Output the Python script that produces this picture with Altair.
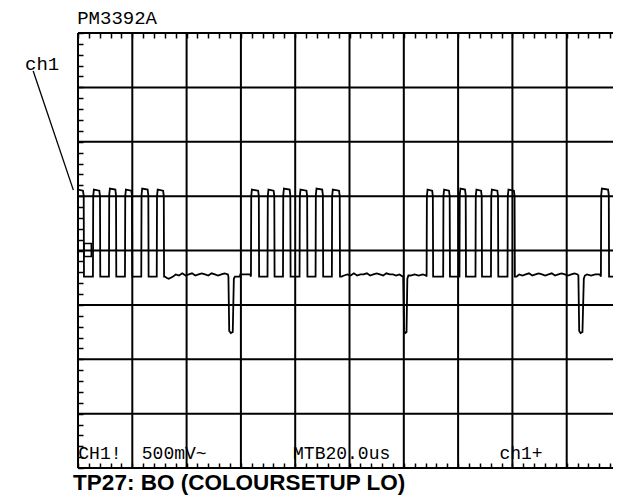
import altair as alt
import pandas as pd

# ---- graticule (time in microseconds, 20 us/div; voltage in V, 500 mV/div)
# the screen's right edge (200 us) lies just outside the photographed area
major_x = [0, 20, 40, 60, 80, 100, 120, 140, 160, 180]
major_y = [-2.0, -1.5, -1.0, -0.5, 0.0, 0.5, 1.0, 1.5, 2.0]
minor_x = [i * 4 for i in range(50)]
minor_y = [round(-2 + i * 0.1, 2) for i in range(41)]
visible_x = [0, 197.05]

# ---- pulse edges (us) and their top levels (V)
b1_rise = [-0.3, 5.5, 11.4, 17.3, 23.3, 29.0]
b1_fall = [2.2, 8.2, 14.1, 20.0, 26.0, 31.7]
b1_top = [0.55, 0.55, 0.56, 0.55, 0.56, 0.55]
b2_rise = [63.7, 69.8, 75.5, 81.6, 87.5, 93.5]
b2_fall = [66.7, 72.4, 78.3, 84.5, 90.3, 96.5]
b2_top = [0.55, 0.55, 0.56, 0.55, 0.56, 0.55]
b3_rise = [128.4, 134.5, 140.5, 146.4, 152.1, 158.2]
b3_fall = [130.8, 137.0, 142.9, 148.8, 154.8, 160.9]
b3_top = [0.55, 0.55, 0.56, 0.55, 0.55, 0.55]
b4_rise = [192.6, 198.9]
b4_fall = [195.6, 201.5]
b4_top = [0.56, 0.56]
pulse_low = -0.24

# ---- baseline stretches, sync spikes and the flat part before each burst
gapA_t = [32.0, 32.6, 33.4, 34.2, 35.0, 36.0, 37.2, 38.4, 39.6, 40.8, 42.0, 43.2, 44.4, 45.6, 46.8, 48.0, 49.2, 50.4, 51.6, 52.8, 54.0, 55.2]
gapA_v = [-0.24, -0.25, -0.26, -0.25, -0.24, -0.22, -0.23, -0.21, -0.23, -0.22, -0.21, -0.23, -0.22, -0.21, -0.22, -0.23, -0.21, -0.22, -0.23, -0.22, -0.21, -0.22]
spk1_t = [55.4, 55.7, 56.3, 57.0, 57.4, 57.8, 59.6, 59.8, 61.5, 63.4]
spk1_v = [-0.24, -0.74, -0.76, -0.75, -0.26, -0.24, -0.24, -0.22, -0.22, -0.22]
gapB_t = [97.0, 98.0, 99.2, 100.4, 101.6, 102.8, 104.0, 105.2, 106.4, 107.6, 108.8, 110.0, 111.2, 112.4, 113.6, 114.8, 116.0, 117.2, 118.4, 119.6]
gapB_v = [-0.24, -0.23, -0.22, -0.23, -0.21, -0.23, -0.22, -0.22, -0.21, -0.23, -0.22, -0.21, -0.22, -0.23, -0.21, -0.22, -0.22, -0.23, -0.22, -0.24]
spk2_t = [119.8, 120.1, 120.5, 121.0, 121.3, 121.7, 122.5, 124.0, 125.5, 127.0, 128.2]
spk2_v = [-0.24, -0.74, -0.76, -0.75, -0.26, -0.23, -0.23, -0.22, -0.23, -0.22, -0.23]
gapC_t = [161.5, 162.5, 163.7, 164.9, 166.1, 167.3, 168.5, 169.7, 170.9, 172.1, 173.3, 174.5, 175.7, 176.9, 178.1, 179.3, 180.5, 181.7, 182.9, 184.0]
gapC_v = [-0.24, -0.22, -0.23, -0.22, -0.21, -0.23, -0.22, -0.21, -0.22, -0.23, -0.22, -0.21, -0.23, -0.22, -0.21, -0.22, -0.23, -0.22, -0.21, -0.22]
spk3_t = [184.3, 184.6, 185.1, 185.8, 186.3, 186.7, 187.5, 189.0, 190.5, 192.2]
spk3_v = [-0.23, -0.74, -0.76, -0.75, -0.26, -0.23, -0.22, -0.23, -0.22, -0.22]

# ---- ground marker of channel 1 (us / V)
marker_t = [2.2, 4.9]
marker_v = [-0.055, 0.064]

# ---- texts
labels_mono = ["PM3392A", "ch1", "CH1!", "500mV~", "MTB20.0us", "ch1+"]
labels_t = [-0.3, -19.5, 0.1, 23.5, 79.2, 155.2]
labels_v = [2.08, 1.66, -1.915, -1.915, -1.915, -1.915]
labels_size = [19, 19, 18, 18, 18, 18]
caption = "TP27: BO (COLOURSETUP LO)"
caption_t = -1.8
caption_v = -2.2
leader_t = [-16.5, -1.7]
leader_v = [1.65, 0.555]


def burst(rises, falls, tops):
    pts = []
    for r, f, top in zip(rises, falls, tops):
        pts += [(r, pulse_low), (r + 0.1, top - 0.05), (r + 0.35, top + 0.01),
                (f - 0.35, top), (f - 0.1, top - 0.05), (f, pulse_low)]
    return pts


trace = []
trace += burst(b1_rise, b1_fall, b1_top)
trace += list(zip(gapA_t, gapA_v)) + list(zip(spk1_t, spk1_v))
trace += burst(b2_rise, b2_fall, b2_top)
trace += list(zip(gapB_t, gapB_v)) + list(zip(spk2_t, spk2_v))
trace += burst(b3_rise, b3_fall, b3_top)
trace += list(zip(gapC_t, gapC_v)) + list(zip(spk3_t, spk3_v))
trace += burst(b4_rise, b4_fall, b4_top)
trace_df = pd.DataFrame({"t": [p[0] for p in trace], "v": [p[1] for p in trace],
                         "i": list(range(len(trace)))})

xs = alt.Scale(domain=visible_x, nice=False, zero=False)
ys = alt.Scale(domain=[-2, 2], nice=False, zero=False)


def minor_axis(orient, values):
    return alt.Axis(orient=orient, values=values, tickSize=5, offset=-5, labels=False,
                    domain=False, grid=False, title=None, tickColor="black", tickWidth=1.5)


grid_x = alt.Chart(pd.DataFrame({"t": major_x})).mark_rule(color="black", strokeWidth=2).encode(
    x=alt.X("t:Q", scale=xs, axis=minor_axis("bottom", minor_x)))
grid_y = alt.Chart(pd.DataFrame({"v": major_y})).mark_rule(color="black", strokeWidth=2).encode(
    y=alt.Y("v:Q", scale=ys, axis=minor_axis("left", minor_y)))

line = alt.Chart(trace_df).mark_line(color="black", strokeWidth=1.8, clip=True).encode(
    x=alt.X("t:Q", scale=xs, axis=minor_axis("top", minor_x)),
    y=alt.Y("v:Q", scale=ys, axis=None),
    order="i:Q")

marker = alt.Chart(pd.DataFrame({"t": [marker_t[0]], "t2": [marker_t[1]],
                                 "v": [marker_v[0]], "v2": [marker_v[1]]})).mark_rect(
    fillOpacity=0, stroke="black", strokeWidth=1.5).encode(
    x=alt.X("t:Q", scale=xs, axis=None), x2="t2:Q",
    y=alt.Y("v:Q", scale=ys, axis=None), y2="v2:Q")

texts_df = pd.DataFrame({"t": labels_t, "v": labels_v, "label": labels_mono, "size": labels_size})
texts = alt.Chart(texts_df).mark_text(font="Liberation Mono", align="left", baseline="alphabetic",
                                      color="black").encode(
    x=alt.X("t:Q", scale=xs, axis=None),
    y=alt.Y("v:Q", scale=ys, axis=None),
    text="label:N",
    size=alt.Size("size:Q", scale=None, legend=None))

cap = alt.Chart(pd.DataFrame({"t": [caption_t], "v": [caption_v], "label": [caption]})).mark_text(
    font="Liberation Sans", fontWeight="bold", fontSize=22.5, align="left", baseline="alphabetic",
    color="black").encode(
    x=alt.X("t:Q", scale=xs, axis=None), y=alt.Y("v:Q", scale=ys, axis=None), text="label:N")

leader = alt.Chart(pd.DataFrame({"t": [leader_t[0]], "t2": [leader_t[1]],
                                 "v": [leader_v[0]], "v2": [leader_v[1]]})).mark_rule(
    color="black", strokeWidth=1.3).encode(
    x=alt.X("t:Q", scale=xs, axis=None), x2="t2:Q",
    y=alt.Y("v:Q", scale=ys, axis=None), y2="v2:Q")

chart = alt.layer(grid_x, grid_y, line, marker, texts, cap, leader).resolve_axis(
    x="independent", y="independent").properties(
    width=535, height=435,
    autosize=alt.AutoSizeParams(type="none"),
    padding={"left": 70, "top": 25, "right": 0, "bottom": 28},
    background="white",
).configure_view(strokeWidth=0)

chart.save("out.html", embed_options={"renderer": "svg", "actions": False})
